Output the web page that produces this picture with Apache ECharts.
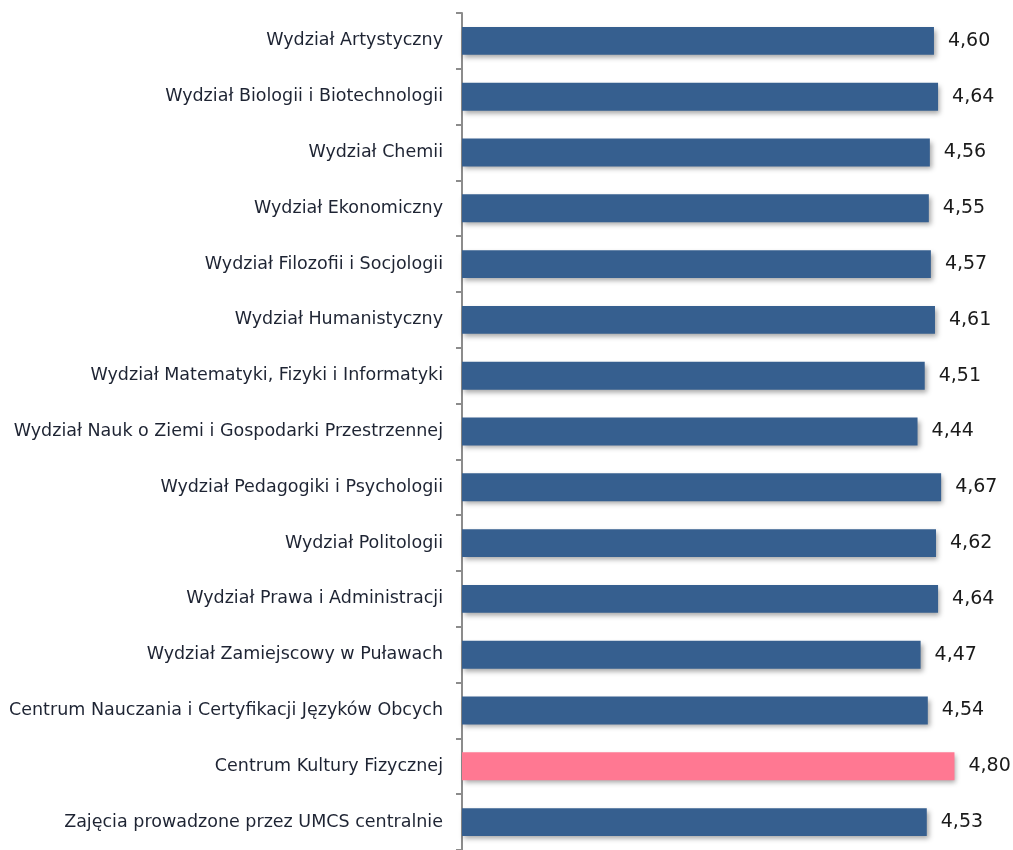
<!DOCTYPE html>
<html><head><meta charset="utf-8">
<script src="https://cdn.jsdelivr.net/npm/echarts@6/dist/echarts.min.js"></script>
<style>html,body{margin:0;padding:0;background:#fff}#c{width:1013px;height:850px}</style>
</head><body><div id="c"></div>
<script>
const categories = [
  "Wydział Artystyczny",
  "Wydział Biologii i Biotechnologii",
  "Wydział Chemii",
  "Wydział Ekonomiczny",
  "Wydział Filozofii i Socjologii",
  "Wydział Humanistyczny",
  "Wydział Matematyki, Fizyki i Informatyki",
  "Wydział Nauk o Ziemi i Gospodarki Przestrzennej",
  "Wydział Pedagogiki i Psychologii",
  "Wydział Politologii",
  "Wydział Prawa i Administracji",
  "Wydział Zamiejscowy w Puławach",
  "Centrum Nauczania i Certyfikacji Języków Obcych",
  "Centrum Kultury Fizycznej",
  "Zajęcia prowadzone przez UMCS centralnie"
];
const values = [4.60, 4.64, 4.56, 4.55, 4.57, 4.61, 4.51, 4.44, 4.67, 4.62, 4.64, 4.47, 4.54, 4.80, 4.53];
const highlightIndex = 13;

const chart = echarts.init(document.getElementById('c'));
chart.setOption({
  animation: false,
  grid: { left: 462, right: 38, top: 13, bottom: -3, containLabel: false },
  xAxis: { type: 'value', min: 0, max: 5, show: false },
  yAxis: {
    type: 'category', inverse: true, data: categories,
    axisLine: { show: true, lineStyle: { color: '#8c8c8c', width: 2 } },
    axisTick: { show: true, length: 6, lineStyle: { color: '#8c8c8c', width: 2 } },
    axisLabel: { color: '#1e2433', fontFamily: 'DejaVu Sans', fontSize: 17.5, margin: 19 }
  },
  series: [{
    type: 'bar', barWidth: '50%',
    data: values.map((v, i) => ({
      value: v,
      itemStyle: { color: i === highlightIndex ? '#ff7892' : '#365f8f' }
    })),
    itemStyle: { shadowBlur: 5, shadowOffsetX: 2, shadowOffsetY: 3, shadowColor: 'rgba(0,0,0,0.35)' },
    label: {
      show: true, position: 'right', distance: 14,
      color: '#1a1a1a', fontFamily: 'DejaVu Sans', fontSize: 19,
      formatter: p => p.value.toFixed(2).replace('.', ',')
    }
  }]
});
</script></body></html>
